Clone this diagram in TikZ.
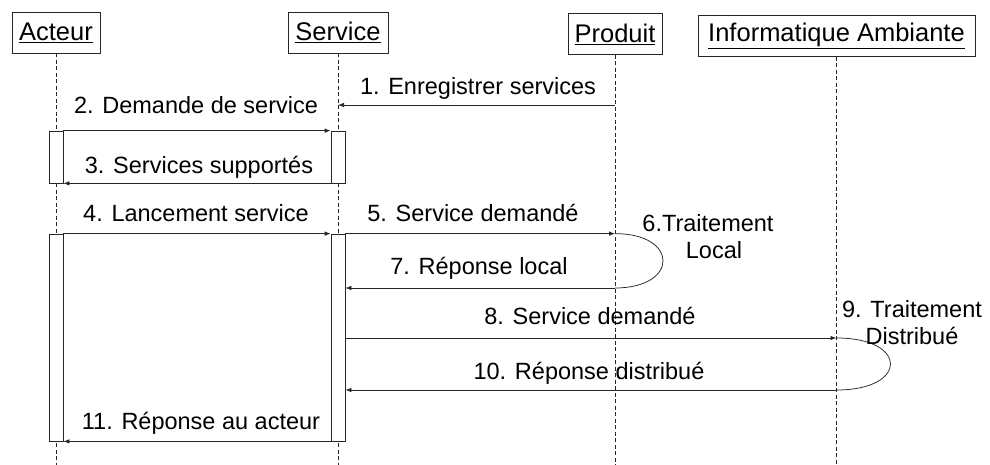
\documentclass[tikz,border=0pt]{standalone}
\usepackage{fontspec}
\setmainfont{Liberation Sans}
\usetikzlibrary{arrows.meta}
\tikzset{every picture/.style={line width=0.75pt}}
\tikzset{
objbox/.style={draw, inner xsep=6pt, minimum height=41pt, font=\fontsize{25.5}{28}\selectfont},
lifeline/.style={dash pattern=on 4pt off 2.5pt},
actbox/.style={draw, fill=white, minimum width=14pt, inner sep=0pt},
msg/.style={-{Latex[length=6pt,width=4.5pt]}},
msglabel/.style={inner sep=0.75pt, align=center}}

\begin{document}
\begin{tikzpicture}[x=1pt,y=1pt,yscale=-1,xscale=1,font=\fontsize{23.5}{27}\selectfont,draw=black!85]
\useasboundingbox (0,0) rectangle (990,465);

% Objects
\node[objbox, minimum width=88pt] (act) at (56,32.5) {\underline{Acteur}};
\node[objbox, minimum width=100pt] (srv) at (338,32.5) {\underline{Service}};
\node[objbox, minimum width=94pt] (prd) at (615,34) {\underline{Produit}};
\node[objbox, minimum width=277pt] (amb) at (836.5,36) {\underline{Informatique Ambiante}};

% Lifelines
\foreach \o in {act,srv,prd,amb}
  \draw[lifeline] (\o.south) -- (\o.south |- 0,465);

% Activations
\node[actbox, minimum height=52pt] (a1) at (act.south |- 0,157) {};
\node[actbox, minimum height=52pt] (s1) at (srv.south |- 0,157) {};
\node[actbox, minimum height=207pt] (a2) at (act.south |- 0,337.5) {};
\node[actbox, minimum height=207pt] (s2) at (srv.south |- 0,337.5) {};

% Points on the lifelines
\coordinate (reg) at (prd.south |- 0,105);
\coordinate (loc1) at (s2.north east -| prd.south);
\coordinate (loc2) at (prd.south |- 0,288);
\coordinate (dis1) at (amb.south |- 0,338);
\coordinate (dis2) at (amb.south |- 0,390);

% Messages
\draw[msg] (reg) -- (reg -| srv.south);
\draw[msg] (a1.north east) -- (s1.north west);
\draw[msg] (s1.south west) -- (a1.south east);
\draw[msg] (a2.north east) -- (s2.north west);
\draw[msg] (s2.north east) -- (loc1);
\draw (loc1) .. controls ([xshift=64pt]loc1) and ([xshift=64pt]loc2) .. (loc2);
\draw[msg] (loc2) -- (loc2 -| s2.east);
\draw[msg] (dis1 -| s2.east) -- (dis1);
\draw (dis1) .. controls ([xshift=72pt]dis1) and ([xshift=72pt]dis2) .. (dis2);
\draw[msg] (dis2) -- (dis2 -| s2.east);
\draw[msg] (s2.south west) -- (a2.south east);

% Text Node
\node[msglabel] (t1) at (478,88) {1. Enregistrer services};
\node[msglabel] (t2) at (196,105) {2. Demande de service};
\node[msglabel] (t3) at (199,167) {3. Services supportés};
\node[msglabel] (t4) at (196,213) {4. Lancement service};
\node[msglabel] (t5) at (473,213) {5. Service demandé};
\node[msglabel] (t6) at (708,237) {6.Traitement\\\hspace*{12pt}Local};
\node[msglabel] (t7) at (479,268) {7. Réponse local};
\node[msglabel] (t8) at (590,316) {8. Service demandé};
\node[msglabel] (t9) at (912,323) {9. Traitement\\Distribué};
\node[msglabel] (t10) at (589,373) {10. Réponse distribué};
\node[msglabel] (t11) at (201,423) {11. Réponse au acteur};

\end{tikzpicture}
\end{document}
